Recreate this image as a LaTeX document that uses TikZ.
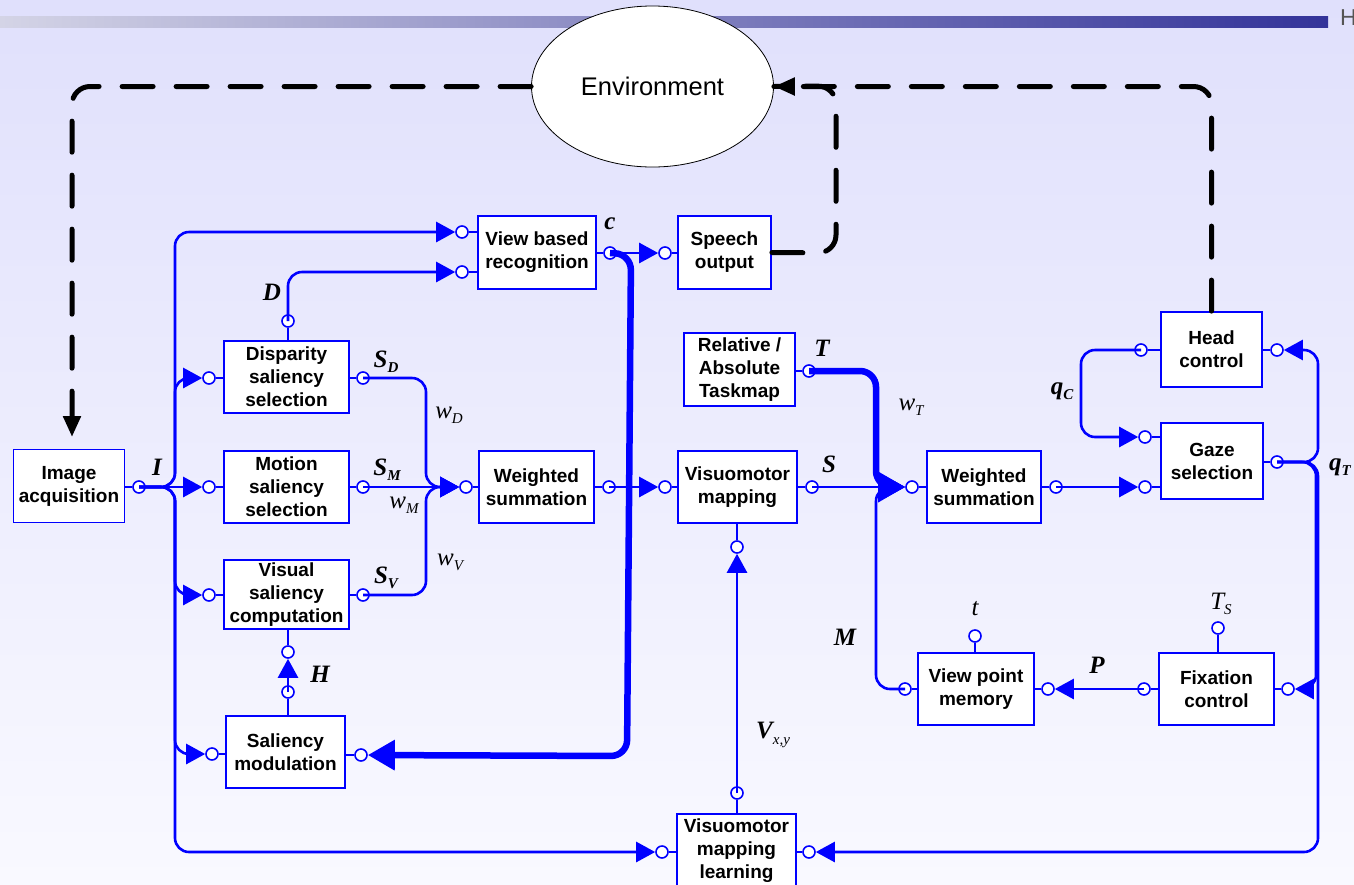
\documentclass[tikz,border=0pt]{standalone}
\usepackage{fontspec}
\setmainfont{Liberation Sans}
\newfontfamily\serf{Liberation Serif}
\usetikzlibrary{arrows.meta,shapes.geometric}
\definecolor{bl}{HTML}{0000FF}
\definecolor{bgtop}{HTML}{E0E0FC}
\definecolor{bgbot}{HTML}{F9F9FF}
\definecolor{barl}{HTML}{D4D4E6}
\definecolor{barr}{HTML}{333399}
\definecolor{hgray}{HTML}{555555}
\newcommand{\bsym}[2]{{\serf\bfseries\itshape #1\raisebox{-0.45ex}{\fontsize{15}{15}\selectfont #2}}}
\newcommand{\isym}[2]{{\serf\itshape #1\raisebox{-0.45ex}{\fontsize{15}{15}\selectfont #2}}}
\tikzset{
  box/.style={draw=bl, line width=1.8pt, fill=white, align=center, inner sep=0pt,
    font=\fontsize{19}{23}\selectfont\bfseries},
  port/.style={circle, draw=bl, fill=white, line width=1.6pt, minimum size=12pt, inner sep=0pt},
  stub/.style={draw=bl, line width=1.8pt},
  conn/.style={draw=bl, line width=2.6pt, rounded corners=14pt},
  fat/.style={draw=bl, line width=6.5pt, rounded corners=16pt},
  tip/.style={-{Triangle[length=19pt,width=20pt]}},
  fattip/.style={-{Triangle[length=27pt,width=29pt]}},
  dsh/.style={draw=black, line width=5pt, dash pattern=on 31pt off 23pt, line cap=round, rounded corners=18pt},
  btip/.style={-{Triangle[length=21pt,width=17pt]}},
  lab/.style={inner sep=0pt, font=\fontsize{25}{25}\selectfont},
}
\begin{document}
\begin{tikzpicture}[x=1pt,y=-1pt]
\useasboundingbox (0,0) rectangle (1354,884);
\clip (0,0) rectangle (1354,884);
\shade[top color=bgtop, bottom color=bgbot] (0,0) rectangle (1354,884);
\shade[left color=barl, right color=barr] (0,16) rectangle (1328,27);
\node[anchor=west, text=hgray, font=\fontsize{23}{23}\selectfont, inner sep=0pt] (hh) at (1340,18) {H};

% environment
\node[ellipse, draw=black, line width=0.8pt, fill=white, minimum width=242pt, minimum height=161pt,
  inner sep=0pt, font=\fontsize{25.5}{25.5}\selectfont] (env) at (652.5,86.5) {Environment};

% boxes
\node[box, minimum width=111pt, minimum height=73pt] (ia) at (69,486) {Image\\acquisition};
\node[box, minimum width=118pt, minimum height=73pt] (vbr) at (537,252.5) {View based\\recognition};
\node[box, minimum width=93pt, minimum height=73pt] (so) at (724.5,252.5) {Speech\\output};
\node[box, minimum width=125pt, minimum height=72pt] (dss) at (286.5,377) {Disparity\\saliency\\selection};
\node[box, minimum width=125pt, minimum height=72pt] (mss) at (286.5,487) {Motion\\saliency\\selection};
\node[box, minimum width=125pt, minimum height=69pt] (vsc) at (286.5,594.5) {Visual\\saliency\\computation};
\node[box, minimum width=119pt, minimum height=72pt] (sm) at (285.5,752) {Saliency\\modulation};
\node[box, minimum width=115pt, minimum height=72pt] (ws1) at (536.5,487) {Weighted\\summation};
\node[box, minimum width=119pt, minimum height=72pt] (vm) at (737.5,487) {Visuomotor\\mapping};
\node[box, minimum width=111pt, minimum height=73pt] (tm) at (739.5,369.5) {Relative /\\Absolute\\Taskmap};
\node[box, minimum width=114pt, minimum height=72pt] (ws2) at (984,487) {Weighted\\summation};
\node[box, minimum width=101pt, minimum height=75pt] (hc) at (1211.5,349.5) {Head\\control};
\node[box, minimum width=102pt, minimum height=76pt] (gs) at (1212,461) {Gaze\\selection};
\node[box, minimum width=116pt, minimum height=72pt] (vpm) at (976,689) {View point\\memory};
\node[box, minimum width=115pt, minimum height=72pt] (fc) at (1216.5,689) {Fixation\\control};
\node[box, minimum width=119pt, minimum height=74pt] (vml) at (736.5,851) {Visuomotor\\mapping\\learning};

% ports
\node[port] (iao) at (139,487) {};
\node[port] (vbi1) at (462,232) {};
\node[port] (vbi2) at (462,272) {};
\node[port] (vbo) at (610,253) {};
\node[port] (soi) at (665,253) {};
\node[port] (dssi) at (209,378) {};
\node[port] (dsso) at (363,378) {};
\node[port] (dsst) at (288,321) {};
\node[port] (mssi) at (209,487) {};
\node[port] (msso) at (363,487) {};
\node[port] (vsci) at (209,595) {};
\node[port] (vsco) at (363,595) {};
\node[port] (vscb) at (288,652) {};
\node[port] (smi) at (212,754) {};
\node[port] (smt) at (288,692) {};
\node[port] (smo) at (361,755) {};
\node[port] (ws1i) at (466,487) {};
\node[port] (ws1o) at (609,487) {};
\node[port] (vmi) at (665,487) {};
\node[port] (vmo) at (812,487) {};
\node[port] (vmb) at (737,547) {};
\node[port] (tmo) at (809,371) {};
\node[port] (ws2i) at (912,487) {};
\node[port] (ws2o) at (1056,487) {};
\node[port] (hci) at (1141,350) {};
\node[port] (hco) at (1277,350) {};
\node[port] (gsi1) at (1145,437) {};
\node[port] (gsi2) at (1145,487) {};
\node[port] (gso) at (1277,462) {};
\node[port] (vpml) at (905,689) {};
\node[port] (vpmr) at (1048,689) {};
\node[port] (vpmt) at (975,636) {};
\node[port] (fcl) at (1144,689) {};
\node[port] (fcr) at (1288,689) {};
\node[port] (fct) at (1218,628) {};
\node[port] (vmlt) at (737,793) {};
\node[port] (vmll) at (662,852) {};
\node[port] (vmlr) at (809,852) {};

% stubs
\draw[stub] (ia.east|-iao) -- (iao);
\draw[stub] (vbr.west|-vbi1) -- (vbi1);
\draw[stub] (vbr.west|-vbi2) -- (vbi2);
\draw[stub] (vbr.east|-vbo) -- (vbo);
\draw[stub] (so.west|-soi) -- (soi);
\draw[stub] (dss.west|-dssi) -- (dssi);
\draw[stub] (dss.east|-dsso) -- (dsso);
\draw[stub] (dss.north-|dsst) -- (dsst);
\draw[stub] (mss.west|-mssi) -- (mssi);
\draw[stub] (mss.east|-msso) -- (msso);
\draw[stub] (vsc.west|-vsci) -- (vsci);
\draw[stub] (vsc.east|-vsco) -- (vsco);
\draw[stub] (vsc.south-|vscb) -- (vscb);
\draw[stub] (sm.west|-smi) -- (smi);
\draw[stub] (sm.north-|smt) -- (smt);
\draw[stub] (sm.east|-smo) -- (smo);
\draw[stub] (ws1.west|-ws1i) -- (ws1i);
\draw[stub] (ws1.east|-ws1o) -- (ws1o);
\draw[stub] (vm.west|-vmi) -- (vmi);
\draw[stub] (vm.east|-vmo) -- (vmo);
\draw[stub] (vm.south-|vmb) -- (vmb);
\draw[stub] (tm.east|-tmo) -- (tmo);
\draw[stub] (ws2.west|-ws2i) -- (ws2i);
\draw[stub] (ws2.east|-ws2o) -- (ws2o);
\draw[stub] (hc.west|-hci) -- (hci);
\draw[stub] (hc.east|-hco) -- (hco);
\draw[stub] (gs.west|-gsi1) -- (gsi1);
\draw[stub] (gs.west|-gsi2) -- (gsi2);
\draw[stub] (gs.east|-gso) -- (gso);
\draw[stub] (vpm.west|-vpml) -- (vpml);
\draw[stub] (vpm.east|-vpmr) -- (vpmr);
\draw[stub] (vpm.north-|vpmt) -- (vpmt);
\draw[stub] (fc.west|-fcl) -- (fcl);
\draw[stub] (fc.east|-fcr) -- (fcr);
\draw[stub] (fc.north-|fct) -- (fct);
\draw[stub] (vml.north-|vmlt) -- (vmlt);
\draw[stub] (vml.west|-vmll) -- (vmll);
\draw[stub] (vml.east|-vmlr) -- (vmlr);

% I bus
\draw[conn,tip] (iao.center) -- (175,487) |- (vbi1);
\draw[conn,tip] (iao.center) -- (175,487) |- (dssi);
\draw[conn,tip] (iao.center) -- (mssi);
\draw[conn,tip] (iao.center) -- (175,487) |- (vsci);
\draw[conn,tip] (iao.center) -- (175,487) |- (smi);
\draw[conn,tip] (iao.center) -- (175,487) |- (vmll);

% D
\draw[conn,tip] (dsst.center) |- (vbi2);
% S_D, S_M, S_V
\draw[conn,tip] (dsso.center) -| (426,487) -- (ws1i);
\draw[conn,tip] (msso.center) -- (ws1i);
\draw[conn,tip] (vsco.center) -| (426,487) -- (ws1i);
\draw[conn,tip] (ws1o.center) -- (vmi);
% c
\draw[conn,tip] (vbo.center) -- (soi);
\draw[fat,fattip] (vbo.center) -- (631,254) -- (627,756) -- (smo);
% H
\draw[conn,tip] (smt.center) -- (vscb);
% T
\draw[fat,fattip] (tmo.center) -- (876,371) -- (876,487) -- (ws2i);
% S
\draw[conn,tip] (vmo.center) -- (ws2i);
% M
\draw[conn,tip] (vpml.center) -| (876,487) -- (ws2i);
\draw[conn,tip] (ws2o.center) -- (gsi2);
% qC
\draw[conn,tip] (hci.center) -- (1081,350) |- (gsi1);
% qT
\draw[conn,tip] (gso.center) -- (1318,462) |- (hco);
\draw[conn,tip] (gso.center) -- (1316,462) |- (fcr);
\draw[conn,tip] (gso.center) -- (1318,462) |- (vmlr);
% P
\draw[conn,tip] (fcl.center) -- (vpmr);
% Vxy
\draw[conn,tip] (vmlt.center) -- (vmb);

% dashed environment loop
\coordinate (iain) at (72,437);
\draw[dsh,btip] (env.west) -| (iain);
\draw[dsh] (so.east) -- (836,253) -- (836,86) -- (env.east);
\draw[dsh,btip] (hc.north) |- (env.east);

% labels
\node[lab] (lI) at (157,470) {\bsym{I}{}};
\node[lab] (lD) at (272,295) {\bsym{D}{}};
\node[lab] (lSD) at (386,362) {\bsym{S}{D}};
\node[lab] (lwD) at (449,415) {\isym{w}{D}};
\node[lab] (lSM) at (387,470) {\bsym{S}{M}};
\node[lab] (lwM) at (404,505) {\isym{w}{M}};
\node[lab] (lSV) at (386,578) {\bsym{S}{V}};
\node[lab] (lwV) at (450,562) {\isym{w}{V}};
\node[lab] (lH) at (320,677) {\bsym{H}{}};
\node[lab] (lc) at (610,226) {\bsym{c}{}};
\node[lab] (lT) at (822,351) {\bsym{T}{}};
\node[lab] (lwT) at (911,407) {\isym{w}{T}};
\node[lab] (lS) at (829,467) {\bsym{S}{}};
\node[lab] (lM) at (845,640) {\bsym{M}{}};
\node[lab, anchor=west] (lV) at (756,735) {{\serf\bfseries\itshape V}{\serf\itshape\raisebox{-0.45ex}{\fontsize{15}{15}\selectfont x,y}}};
\node[lab] (lt) at (975,611) {\isym{t}{}};
\node[lab] (lTS) at (1221,604) {\isym{T}{S}};
\node[lab] (lP) at (1097,668) {\bsym{P}{}};
\node[lab] (lqC) at (1062,391) {\bsym{q}{C}};
\node[lab, anchor=west] (lqT) at (1329,467) {\bsym{q}{T}};
\end{tikzpicture}
\end{document}
